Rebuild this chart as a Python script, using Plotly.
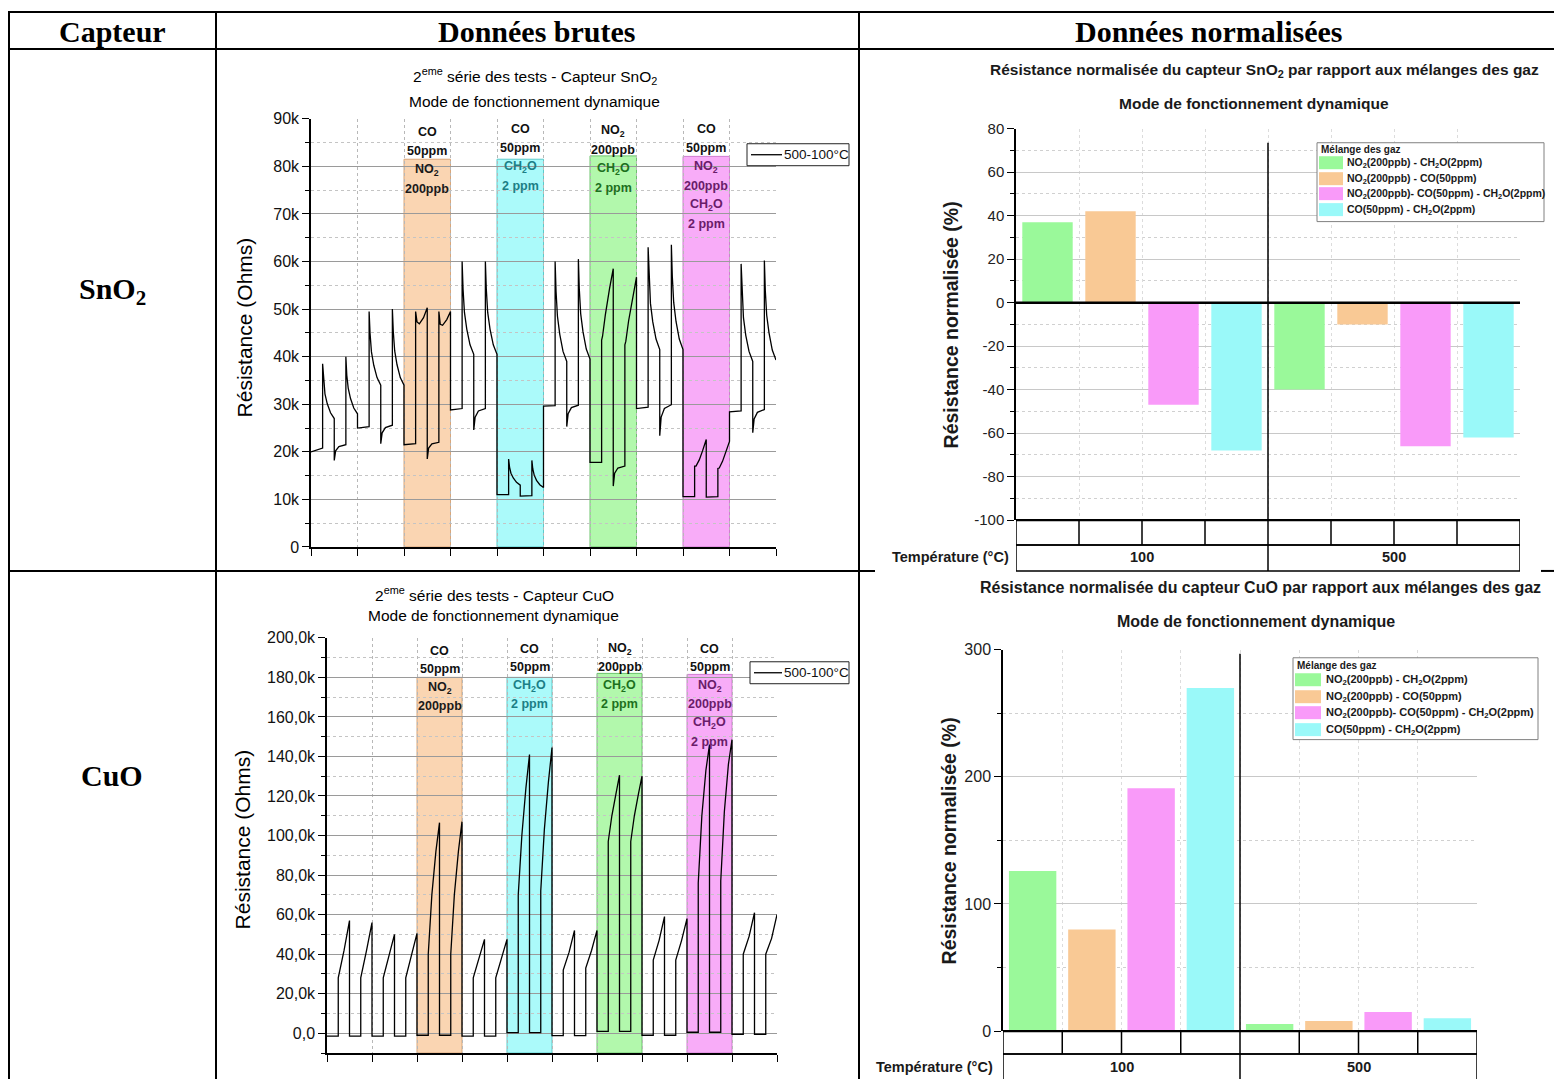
import plotly.graph_objects as go

W, H = 1554, 1079
# the returned picture shows the page rows 0..1079 between picture rows 8..1071,
# so reference rows are mapped onto that band
VOFF, VSPAN = 8, 1063
SANS = "Liberation Sans, Arial, sans-serif"
SERIF = "Liberation Serif, Times New Roman, serif"


def PX(x):
    return x / W


def PY(y):
    return 1 - (y - VOFF) / VSPAN


# ------------------------------------------------------------------ data
# SnO2 raw signal: time (cycle units) and resistance (kOhm)
sno2_time = [
    [0.00, 0.25, 0.25, 0.27, 0.30, 0.35, 0.42, 0.50, 0.50, 0.53, 0.60, 0.75, 0.75, 0.77, 0.80, 0.85, 0.92, 1.00],
    [1.00, 1.25, 1.25, 1.27, 1.30, 1.35, 1.42, 1.50, 1.50, 1.53, 1.60, 1.75, 1.75, 1.77, 1.80, 1.85, 1.92, 2.00],
    [2.00, 2.25, 2.25, 2.28, 2.33, 2.42, 2.50, 2.50, 2.53, 2.60, 2.75, 2.75, 2.78, 2.83, 2.92, 3.00],
    [3.00, 3.25, 3.25, 3.27, 3.30, 3.35, 3.42, 3.50, 3.50, 3.53, 3.60, 3.75, 3.75, 3.77, 3.80, 3.85, 3.92, 4.00],
    [4.00, 4.25, 4.25, 4.27, 4.30, 4.35, 4.42, 4.50, 4.50, 4.75, 4.75, 4.77, 4.80, 4.85, 4.92, 5.00],
    [5.00, 5.25, 5.25, 5.27, 5.30, 5.35, 5.42, 5.50, 5.50, 5.53, 5.60, 5.75, 5.75, 5.77, 5.80, 5.85, 5.92, 6.00],
    [6.00, 6.25, 6.25, 6.27, 6.33, 6.42, 6.50, 6.50, 6.53, 6.60, 6.75, 6.75, 6.77, 6.83, 6.92, 7.00],
    [7.00, 7.25, 7.25, 7.27, 7.30, 7.35, 7.42, 7.50, 7.50, 7.53, 7.60, 7.75, 7.75, 7.77, 7.80, 7.85, 7.92, 8.00],
    [8.00, 8.25, 8.25, 8.28, 8.35, 8.42, 8.50, 8.50, 8.75, 8.75, 8.78, 8.85, 8.92, 9.00],
    [9.00, 9.25, 9.25, 9.27, 9.30, 9.35, 9.42, 9.50, 9.50, 9.53, 9.60, 9.75, 9.75, 9.77, 9.80, 9.85, 9.92, 10.00],
]
sno2_kohm = [
    [20.0, 20.8, 38.5, 35.0, 32.2, 30.1, 28.2, 27.0, 18.2, 20.2, 21.1, 21.5, 40.0, 36.1, 33.4, 31.2, 29.2, 28.0],
    [25.0, 25.3, 49.5, 44.9, 41.0, 38.2, 35.6, 34.0, 21.7, 24.0, 25.1, 25.6, 50.0, 45.2, 41.2, 38.3, 35.6, 34.0],
    [21.5, 21.7, 49.5, 47.3, 46.9, 48.2, 50.3, 18.5, 20.8, 21.7, 22.0, 49.5, 46.8, 46.6, 47.8, 49.5],
    [28.8, 29.1, 60.0, 54.2, 49.3, 45.8, 42.5, 40.5, 24.6, 27.3, 28.6, 29.1, 60.0, 54.2, 49.3, 45.8, 42.5, 40.5],
    [11.0, 11.0, 18.5, 16.8, 15.5, 14.5, 13.6, 13.0, 10.7, 10.8, 18.2, 16.4, 15.1, 14.0, 13.1, 12.5],
    [29.6, 29.7, 60.0, 53.7, 48.5, 44.7, 41.1, 39.0, 25.3, 28.0, 29.3, 29.8, 60.5, 54.2, 49.0, 45.2, 41.6, 39.5],
    [17.8, 17.8, 43.5, 44.3, 48.8, 54.3, 58.5, 12.8, 15.5, 16.6, 17.0, 42.5, 43.2, 47.5, 52.8, 56.7],
    [29.1, 29.4, 63.0, 56.5, 51.2, 47.3, 43.7, 41.5, 23.4, 27.3, 29.1, 29.9, 63.5, 56.9, 51.4, 47.4, 43.7, 41.5],
    [10.6, 10.6, 17.0, 17.0, 18.3, 20.2, 22.6, 10.5, 10.6, 16.5, 16.6, 18.0, 19.9, 22.2],
    [28.4, 28.6, 59.5, 53.3, 48.2, 44.5, 41.1, 39.0, 24.0, 26.9, 28.3, 28.9, 60.2, 53.9, 48.7, 45.0, 41.4, 39.3],
]

# CuO raw signal: time (cycle units) and resistance (kOhm)
cuo_time = [
    [0.00, 0.25, 0.25, 0.38, 0.50, 0.50, 0.75, 0.75, 0.88, 1.00],
    [1.00, 1.25, 1.25, 1.38, 1.50, 1.50, 1.75, 1.75, 1.88, 2.00],
    [2.00, 2.25, 2.25, 2.33, 2.42, 2.50, 2.50, 2.75, 2.75, 2.83, 2.92, 3.00],
    [3.00, 3.25, 3.25, 3.38, 3.50, 3.50, 3.75, 3.75, 3.88, 4.00],
    [4.00, 4.25, 4.25, 4.33, 4.42, 4.50, 4.50, 4.75, 4.75, 4.83, 4.92, 5.00],
    [5.00, 5.25, 5.25, 5.38, 5.50, 5.50, 5.75, 5.75, 5.88, 6.00],
    [6.00, 6.25, 6.25, 6.33, 6.42, 6.50, 6.50, 6.75, 6.75, 6.83, 6.92, 7.00],
    [7.00, 7.25, 7.25, 7.38, 7.50, 7.50, 7.75, 7.75, 7.88, 8.00],
    [8.00, 8.25, 8.25, 8.33, 8.42, 8.50, 8.50, 8.75, 8.75, 8.83, 8.92, 9.00],
    [9.00, 9.25, 9.25, 9.38, 9.50, 9.50, 9.75, 9.75, 9.88, 10.00],
]
cuo_kohm = [
    [-1.5, -1.5, 28, 42, 57, -1.5, -1.5, 28, 42, 56],
    [-1.5, -1.5, 28, 39, 50, -1.5, -1.5, 28, 39, 50.5],
    [-1.0, -1.0, 40, 70, 92, 106.5, -1.0, -1.0, 40, 70, 92, 107],
    [-1.5, -1.5, 28, 38, 47.5, -1.5, -1.5, 28, 38, 47.5],
    [0.3, 0.3, 70, 100, 124, 141, 0.3, 0.3, 72, 103, 127, 144.5],
    [-1.2, -1.2, 32, 41, 52, -1.2, -1.2, 33, 42, 52],
    [1.0, 1.0, 97, 110, 121, 130.5, 1.0, 1.0, 97, 110, 121, 130],
    [-1.0, -1.0, 37, 47, 59, -1.0, -1.0, 37, 47, 58],
    [0.5, 0.5, 76, 110, 133, 146, 0.5, 0.5, 77, 112, 136, 148.5],
    [-0.5, -0.5, 40, 49, 61, -0.5, -0.5, 40, 48, 60],
]
series_name = "500-100°C"

# gas exposure windows (cycle units) and their heights (kOhm)
windows = [(2, 3), (4, 5), (6, 7), (8, 9)]
sno2_window_top = [81.5, 81.5, 82.2, 82.1]
cuo_window_top = [180, 180, 182, 181.5]
window_outside = [["CO", "50ppm"], ["CO", "50ppm"], ["NO<sub>2</sub>", "200ppb"], ["CO", "50ppm"]]
window_inside = [["NO<sub>2</sub>", "200ppb"], ["CH<sub>2</sub>O", "2 ppm"], ["CH<sub>2</sub>O", "2 ppm"],
                 ["NO<sub>2</sub>", "200ppb", "CH<sub>2</sub>O", "2 ppm"]]

sno2_ticks = [0, 10, 20, 30, 40, 50, 60, 70, 80, 90]
sno2_ticktext = ["0", "10k", "20k", "30k", "40k", "50k", "60k", "70k", "80k", "90k"]
cuo_ticks = [0, 20, 40, 60, 80, 100, 120, 140, 160, 180, 200]
cuo_ticktext = ["0,0", "20,0k", "40,0k", "60,0k", "80,0k", "100,0k", "120,0k", "140,0k", "160,0k", "180,0k",
                "200,0k"]

# normalised responses (%)
mixtures = ["NO<sub>2</sub>(200ppb) - CH<sub>2</sub>O(2ppm)",
            "NO<sub>2</sub>(200ppb) - CO(50ppm)",
            "NO<sub>2</sub>(200ppb)- CO(50ppm) - CH<sub>2</sub>O(2ppm)",
            "CO(50ppm) - CH<sub>2</sub>O(2ppm)"]
temperatures = ["100", "500"]
sno2_norm = {"100": [37, 42, -47, -68], "500": [-40, -10, -66, -62]}
cuo_norm = {"100": [126, 80, 191, 270], "500": [5.5, 8, 15, 10]}
sno2_norm_ticks = [-100, -80, -60, -40, -20, 0, 20, 40, 60, 80]
sno2_norm_ticktext = ["-100", "-80", "-60", "-40", "-20", "0", "20", "40", "60", "80"]
cuo_norm_ticks = [0, 100, 200, 300]

# ------------------------------------------------------------------ styles
mix_colors = ["#9AF99A", "#F9C995", "#F99AF9", "#9AF9F9"]
win_fill = ["#FAD5B2", "#ABFAFA", "#B2F8AC", "#F8ACF8"]
win_line = ["#D9A679", "#5CCBCB", "#6CC46C", "#D07CD0"]
inside_color = ["#1a1a1a", "#1c7f86", "#1d701d", "#6a1c6a"]


def flat(lst):
    return [v for row in lst for v in row]


fig = go.Figure()

fig.add_trace(go.Scatter(x=flat(sno2_time), y=flat(sno2_kohm), mode="lines",
                         line=dict(color="black", width=1.3), name=series_name,
                         xaxis="x", yaxis="y", showlegend=False))
fig.add_trace(go.Scatter(x=flat(cuo_time), y=flat(cuo_kohm), mode="lines",
                         line=dict(color="black", width=1.3), name=series_name,
                         xaxis="x3", yaxis="y3", showlegend=False))

for i, name in enumerate(mixtures):
    xs = [g * len(mixtures) + i for g in range(len(temperatures))]
    fig.add_trace(go.Bar(x=xs, y=[sno2_norm[t][i] for t in temperatures], width=0.8,
                         marker=dict(color=mix_colors[i], line=dict(width=0)), name=name,
                         xaxis="x2", yaxis="y2", showlegend=False))
    fig.add_trace(go.Bar(x=xs, y=[cuo_norm[t][i] for t in temperatures], width=0.8,
                         marker=dict(color=mix_colors[i], line=dict(width=0)), name=name,
                         xaxis="x4", yaxis="y4", showlegend=False))

shapes = []
annotations = []


def line_px(x0, y0, x1, y1, w=2, color="black"):
    shapes.append(dict(type="line", xref="paper", yref="paper", x0=PX(x0), y0=PY(y0), x1=PX(x1), y1=PY(y1),
                       line=dict(color=color, width=w)))


def rect_px(x0, y0, x1, y1, fill="rgba(0,0,0,0)", lc="black", w=1):
    shapes.append(dict(type="rect", xref="paper", yref="paper", x0=PX(x0), y0=PY(y0), x1=PX(x1), y1=PY(y1),
                       fillcolor=fill, line=dict(color=lc, width=w)))


def text(t, x, y, size, color="black", family=SANS, xanchor="center", yanchor="middle", angle=0,
         xref="paper", weight="normal"):
    annotations.append(dict(text=t, x=x if xref != "paper" else PX(x), y=PY(y), xref=xref, yref="paper",
                            showarrow=False, xanchor=xanchor, yanchor=yanchor, textangle=angle,
                            font=dict(family=family, size=size, color=color, weight=weight)))


# ---- outer table
line_px(8, 11, 1554, 11)
line_px(8, 48, 1554, 48)
line_px(8, 571, 875, 571)
line_px(1541, 571, 1554, 571)
line_px(9, 10, 9, 1085)
line_px(216, 10, 216, 1085)
line_px(859, 10, 859, 1085)
text("Capteur", 112, 31, 30, family=SERIF, weight="bold")
text("Données brutes", 537, 31, 30, family=SERIF, weight="bold")
text("Données normalisées", 1208, 31, 30, family=SERIF, weight="bold")
text("SnO<sub>2</sub>", 112, 291, 30, family=SERIF, weight="bold")
text("CuO", 112, 776, 30, family=SERIF, weight="bold")

# ---- raw charts
for k, ((x0, x1), fill, lc) in enumerate(zip(windows, win_fill, win_line)):
    shapes.append(dict(type="rect", xref="x", yref="y", x0=x0, x1=x1, y0=0, y1=sno2_window_top[k],
                       fillcolor=fill, line=dict(color=lc, width=1), layer="below"))
    shapes.append(dict(type="rect", xref="x3", yref="y3", x0=x0, x1=x1, y0=-10, y1=cuo_window_top[k],
                       fillcolor=fill, line=dict(color=lc, width=1), layer="below"))
    lines = [(t, "#111111") for t in window_outside[k]] + [(t, inside_color[k]) for t in window_inside[k]]
    sno2_start = [131, 128, 130, 128][k]
    cuo_start = [651, 649, 649, 649][k]
    for j, (t, c) in enumerate(lines):
        text(t, (x0 + x1) / 2, sno2_start + 19 * j, 12.5, color=c, xref="x", weight="bold")
        text(t, (x0 + x1) / 2, cuo_start + 18.6 * j, 12.5, color=c, xref="x3", weight="bold")

# series legends of the raw charts
for bx0, by0, bx1, by1 in [(747, 143, 849, 165), (750, 662, 849, 684)]:
    rect_px(bx0, by0, bx1, by1, fill="white", lc="#222", w=1)
    ym = (by0 + by1) / 2
    line_px(bx0 + 4, ym, bx1 - 67, ym, w=1.3)
    text(series_name, bx1 - 67, ym, 13.5, color="#111", xanchor="left")

text("2<sup>eme</sup> série des tests - Capteur SnO<sub>2</sub>", 535, 75, 15.5)
text("Mode de fonctionnement dynamique", 534, 101, 15.5)
text("Résistance (Ohms)", 244, 327, 21, angle=-90)
text("2<sup>eme</sup> série des tests - Capteur CuO", 495, 594, 15.5)
text("Mode de fonctionnement dynamique", 493, 616, 15.5)
text("Résistance (Ohms)", 242, 840, 21, angle=-90)

# ---- normalised charts
text("Résistance normalisée du capteur SnO<sub>2</sub> par rapport aux mélanges des gaz", 1264, 70, 15.5,
     color="#1a1a1a", weight="bold")
text("Mode de fonctionnement dynamique", 1254, 103, 15.5, color="#1a1a1a", weight="bold")
text("Résistance normalisée (%)", 951, 325, 19.5, color="#1a1a1a", angle=-90, weight="bold")
text("Résistance normalisée du capteur CuO par rapport aux mélanges des gaz", 1260, 588, 16,
     color="#1a1a1a", weight="bold")
text("Mode de fonctionnement dynamique", 1256, 622, 16, color="#1a1a1a", weight="bold")
text("Résistance normalisée (%)", 949, 842, 19.5, color="#1a1a1a", angle=-90, weight="bold")

n_cat = len(mixtures) * len(temperatures)
for xa, ya, top, row1, row2, bottom, ty, tx in [("x2", "y2", 142, 520, 545, 571, 557, 1011),
                                               ("x4", "y4", 654, 1032, 1055, 1095, 1068, 995)]:
    shapes.append(dict(type="rect", xref=xa, yref="paper", x0=-0.5, x1=n_cat - 0.5, y0=PY(row1), y1=PY(row2),
                       line=dict(color="black", width=1.5)))
    shapes.append(dict(type="rect", xref=xa, yref="paper", x0=-0.5, x1=n_cat - 0.5, y0=PY(row2), y1=PY(bottom),
                       line=dict(color="black", width=1.5)))
    shapes.append(dict(type="line", xref=xa, yref="paper", x0=-0.5, x1=n_cat - 0.5, y0=PY(row1), y1=PY(row1),
                       line=dict(color="black", width=2.2)))
    for b in range(1, n_cat):
        if b == len(mixtures):
            shapes.append(dict(type="line", xref=xa, yref="paper", x0=b - 0.5, x1=b - 0.5, y0=PY(top),
                               y1=PY(bottom), line=dict(color="black", width=1.5)))
        else:
            shapes.append(dict(type="line", xref=xa, yref="paper", x0=b - 0.5, x1=b - 0.5, y0=PY(row1),
                               y1=PY(row2), line=dict(color="black", width=1.5)))
    text("Température (°C)", tx, ty, 14.5, color="#1a1a1a", xanchor="right", weight="bold")
    for g, t in enumerate(temperatures):
        text(t, g * len(mixtures) + (len(mixtures) - 1) / 2, ty, 14.5, color="#1a1a1a", xref=xa, weight="bold")

# zero line of the SnO2 normalised chart, drawn over the bars
shapes.append(dict(type="line", xref="x2", yref="y2", x0=-0.5, x1=n_cat - 0.5, y0=0, y1=0,
                   line=dict(color="black", width=2.5), layer="above"))

# legends of the normalised charts (wide colour swatches as in the reference)
for (bx0, by0, bx1, by1, title_y, sw0, sw1, tx0, rows, fs) in [
        (1317, 142, 1544, 221, 149, 1319, 1343, 1345, [162, 178, 193, 209], 10.5),
        (1293, 658, 1538, 740, 666, 1295, 1321, 1324, [680, 697, 713, 730], 11)]:
    rect_px(bx0, by0, bx1, by1, fill="white", lc="#808080", w=1)
    text("Mélange des gaz", bx0 + 2, title_y, 10, color="#1a1a1a", xanchor="left", weight="bold")
    for name, col, ry in zip(mixtures, mix_colors, rows):
        rect_px(sw0, ry - 6.5, sw1, ry + 6.5, fill=col, lc=col, w=0)
        text(name, tx0, ry, fs, color="#1a1a1a", xanchor="left", weight="bold")

raw_x = dict(range=[0, 10], showticklabels=False, ticks="outside", ticklen=7, tickwidth=1.2, tickcolor="black",
             tick0=0, dtick=1, showline=True, linecolor="black", linewidth=1.5, showgrid=True,
             gridcolor="#b8b8b8", griddash="dot", gridwidth=1, zeroline=False, fixedrange=True)
raw_y = dict(tickmode="array", ticks="outside", ticklen=7, tickwidth=1.2, tickcolor="black", showline=True,
             linecolor="black", linewidth=1.5, showgrid=True, gridcolor="#9a9a9a", gridwidth=1,
             zeroline=False, tickfont=dict(family=SANS, size=16, color="#111"), fixedrange=True)
bar_x = dict(range=[-0.5, n_cat - 0.5], showticklabels=False, ticks="", showline=False,
             tickmode="array", tickvals=[b - 0.5 for b in range(1, n_cat)], showgrid=True,
             gridcolor="#dcdcdc", griddash="dot", zeroline=False, fixedrange=True)
bar_y = dict(ticks="outside", ticklen=7, tickwidth=1.2, tickcolor="black", showline=True, linecolor="black",
             linewidth=1.5, showgrid=True, gridcolor="#c8c8c8", gridwidth=1, fixedrange=True,
             tickmode="array", tickfont=dict(family=SANS, size=15, color="#222"))

fig.update_layout(
    autosize=True, margin=dict(l=0, r=0, t=0, b=0, pad=0),
    paper_bgcolor="white", plot_bgcolor="white", barmode="overlay",
    font=dict(family=SANS, color="black"), showlegend=False,
    xaxis=dict(raw_x, domain=[PX(311), PX(776)], anchor="y"),
    yaxis=dict(raw_y, domain=[PY(547), PY(118)], anchor="x", range=[0, 90], tickvals=sno2_ticks,
               ticktext=sno2_ticktext,
               minor=dict(tickmode="array", tickvals=[v + 5 for v in sno2_ticks[:-1]], ticks="outside",
                          ticklen=4, tickcolor="black", showgrid=True, gridcolor="#c4c4c4", griddash="dot")),
    xaxis3=dict(raw_x, domain=[PX(327), PX(777)], anchor="y3"),
    yaxis3=dict(raw_y, domain=[PY(1054), PY(638)], anchor="x3", range=[-10, 200], tickvals=cuo_ticks,
                ticktext=cuo_ticktext,
                minor=dict(tickmode="array", tickvals=[v + 10 for v in cuo_ticks[:-1]] + [-10],
                           ticks="outside", ticklen=4, tickcolor="black", showgrid=True,
                           gridcolor="#c4c4c4", griddash="dot")),
    xaxis2=dict(bar_x, domain=[PX(1016), PX(1520)], anchor="y2"),
    yaxis2=dict(bar_y, domain=[PY(520), PY(128)], anchor="x2", range=[-100, 80], tickvals=sno2_norm_ticks,
                ticktext=sno2_norm_ticktext, zeroline=False,
                minor=dict(tickmode="array", tickvals=[v + 10 for v in sno2_norm_ticks[:-1]], ticks="outside",
                           ticklen=4, tickcolor="black", showgrid=True, gridcolor="#d0d0d0", griddash="dot")),
    xaxis4=dict(bar_x, domain=[PX(1003), PX(1477)], anchor="y4"),
    yaxis4=dict(bar_y, domain=[PY(1032), PY(650)], anchor="x4", range=[0, 300], tickvals=cuo_norm_ticks,
                zeroline=False, tickfont=dict(family=SANS, size=16, color="#222"),
                minor=dict(tickmode="array", tickvals=[v + 50 for v in cuo_norm_ticks[:-1]], ticks="outside",
                           ticklen=4, tickcolor="black", showgrid=True, gridcolor="#d0d0d0", griddash="dot")),
    shapes=shapes, annotations=annotations,
)

# The graph div is pinned to the top-left corner of the 1554x1079 window (no body margin / scrolling)
fig.write_html("out.html", include_plotlyjs=True, config={"displayModeBar": False},
               default_width=f"{W}px", default_height=f"{H}px; position:fixed; left:0; top:0")
